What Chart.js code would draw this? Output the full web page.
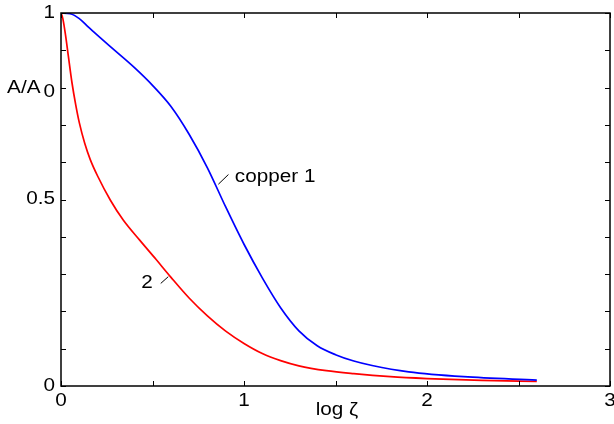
<!DOCTYPE html>
<html>
<head>
<meta charset="utf-8">
<script src="https://cdn.jsdelivr.net/npm/chart.js@4"></script>
<style>
html,body{margin:0;padding:0;background:#fff;}
#wrap{width:614px;height:424px;position:relative;}
</style>
</head>
<body>
<div id="wrap"><canvas id="c" width="614" height="424"></canvas></div>
<script>
// Series 1: copper (blue)
const copperX = [0, 0.05, 0.1, 0.15, 0.2, 0.3, 0.4, 0.5, 0.6, 0.7, 0.8, 0.9, 1.0, 1.1, 1.2, 1.3, 1.4, 1.5, 1.6, 1.7, 1.9, 2.2, 2.6];
const copperY = [1, 0.998, 0.985, 0.962, 0.94, 0.897, 0.854, 0.806, 0.75, 0.675, 0.585, 0.48, 0.38, 0.29, 0.21, 0.148, 0.108, 0.084, 0.067, 0.055, 0.038, 0.025, 0.016];
// Series 2 (red)
const s2X = [0, 0.01, 0.025, 0.04, 0.06, 0.08, 0.1, 0.13, 0.16, 0.2, 0.27, 0.34, 0.43, 0.52, 0.6, 0.7, 0.8, 0.9, 1.0, 1.1, 1.2, 1.3, 1.45, 1.6, 1.8, 2.0, 2.3, 2.6];
const s2Y = [1, 0.985, 0.94, 0.885, 0.813, 0.755, 0.706, 0.65, 0.607, 0.563, 0.498, 0.445, 0.391, 0.339, 0.292, 0.236, 0.188, 0.147, 0.114, 0.087, 0.068, 0.054, 0.041, 0.033, 0.025, 0.02, 0.015, 0.012];

const xTicks = [0, 0.5, 1, 1.5, 2, 2.5, 3];
const xTickLabels = ["0", "", "1", "", "2", "", "3"];
const yTicks = [0, 0.1, 0.2, 0.3, 0.4, 0.5, 0.6, 0.7, 0.8, 0.9, 1];
const yTickLabels = ["0", "", "", "", "", "0.5", "", "", "", "", "1"];
const xTitle = "log ζ";
const yTitleMain = "A/A";
const yTitleSub = "0";
const yTitleAt = 0.8;
const labelCopper = "copper 1";
const labelS2 = "2";

function pts(xs, ys){ return xs.map((x,i)=>({x:x, y:ys[i]})); }

const FONT = '18px "Liberation Sans", Arial, sans-serif';
const SX = 1.15;

function txt(ctx, s, x, y, align){
  ctx.save();
  ctx.translate(x, y);
  ctx.scale(SX, 1);
  ctx.textAlign = align;
  ctx.textBaseline = 'middle';
  ctx.fillText(s, 0, 0);
  ctx.restore();
}

const decor = {
  id: 'decor',
  afterDraw(chart){
    const ctx = chart.ctx, a = chart.chartArea;
    const xs = chart.scales.x, ys = chart.scales.y;
    ctx.save();
    // frame
    ctx.strokeStyle = '#000';
    ctx.lineWidth = 1.5;
    ctx.strokeRect(a.left, a.top, a.right - a.left, a.bottom - a.top);
    // ticks inward, mirrored
    ctx.lineWidth = 1;
    const tl = 5;
    ctx.beginPath();
    xTicks.forEach(v=>{
      const p = Math.round(xs.getPixelForValue(v)) + 0.5;
      ctx.moveTo(p, a.bottom); ctx.lineTo(p, a.bottom - tl);
      ctx.moveTo(p, a.top); ctx.lineTo(p, a.top + tl);
    });
    yTicks.forEach(v=>{
      const p = Math.round(ys.getPixelForValue(v)) + 0.5;
      ctx.moveTo(a.left, p); ctx.lineTo(a.left + tl, p);
      ctx.moveTo(a.right, p); ctx.lineTo(a.right - tl, p);
    });
    ctx.stroke();
    // tick labels
    ctx.fillStyle = '#000';
    ctx.font = FONT;
    xTicks.forEach((v,i)=>{
      if (xTickLabels[i]) txt(ctx, xTickLabels[i], xs.getPixelForValue(v), a.bottom + 15, 'center');
    });
    yTicks.forEach((v,i)=>{
      if (yTickLabels[i]) txt(ctx, yTickLabels[i], a.left - 6, ys.getPixelForValue(v), 'right');
    });
    // y title as tick-like label
    const yt = ys.getPixelForValue(yTitleAt);
    txt(ctx, yTitleSub, a.left - 6, yt + 4, 'right');
    const subW = ctx.measureText(yTitleSub).width * SX;
    txt(ctx, yTitleMain, a.left - 6 - subW - 3, yt, 'right');
    // x title
    txt(ctx, xTitle, xs.getPixelForValue(1.5) + 1.5, a.bottom + 24, 'center');
    // curve labels with leaders
    txt(ctx, labelCopper, xs.getPixelForValue(0.95), ys.getPixelForValue(0.56), 'left');
    txt(ctx, labelS2, xs.getPixelForValue(0.47), ys.getPixelForValue(0.277), 'center');
    ctx.lineWidth = 1;
    ctx.strokeStyle = '#000';
    ctx.beginPath();
    ctx.moveTo(xs.getPixelForValue(0.86), ys.getPixelForValue(0.541));
    ctx.lineTo(xs.getPixelForValue(0.915), ys.getPixelForValue(0.567));
    ctx.moveTo(xs.getPixelForValue(0.545), ys.getPixelForValue(0.275));
    ctx.lineTo(xs.getPixelForValue(0.586), ys.getPixelForValue(0.293));
    ctx.stroke();
    ctx.restore();
  }
};

new Chart(document.getElementById('c'), {
  type: 'scatter',
  data: {
    datasets: [
      { label: labelCopper, data: pts(copperX, copperY), showLine: true, borderColor: '#0000ff', borderWidth: 1.7, pointRadius: 0, cubicInterpolationMode: 'monotone', fill: false },
      { label: labelS2, data: pts(s2X, s2Y), showLine: true, borderColor: '#ff0000', borderWidth: 1.7, pointRadius: 0, cubicInterpolationMode: 'monotone', fill: false }
    ]
  },
  options: {
    responsive: false,
    animation: false,
    devicePixelRatio: 1,
    layout: { padding: { left: 61, top: 13, right: 4, bottom: 38 } },
    plugins: { legend: { display: false }, tooltip: { enabled: false } },
    scales: {
      x: { type: 'linear', min: 0, max: 3, display: false },
      y: { type: 'linear', min: 0, max: 1, display: false }
    }
  },
  plugins: [decor]
});
</script>
</body>
</html>
